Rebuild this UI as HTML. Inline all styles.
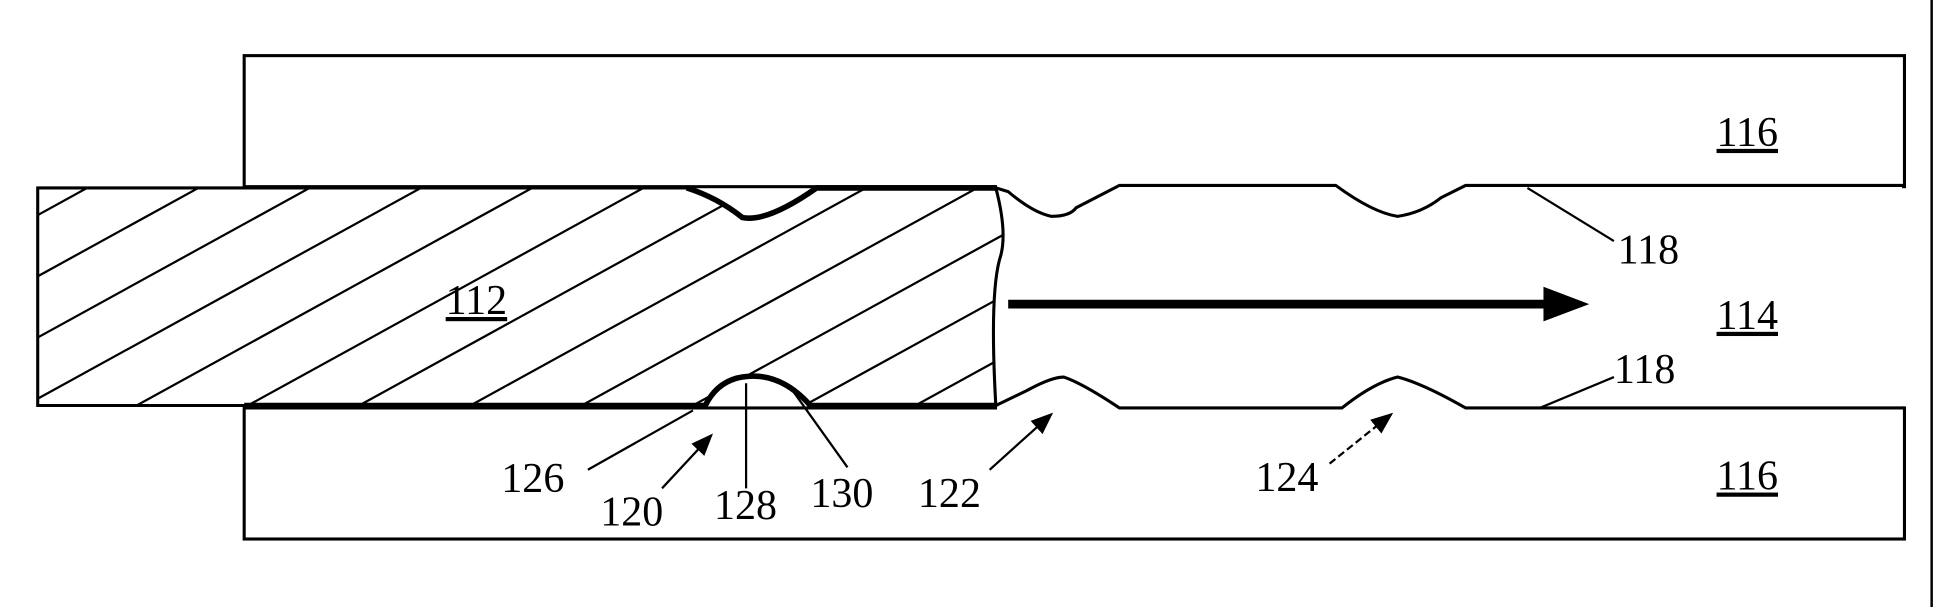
<!DOCTYPE html>
<html><head><meta charset="utf-8"><style>
html,body{margin:0;padding:0;background:#fff;width:1936px;height:607px;overflow:hidden}
svg{display:block}
text{font-family:"Liberation Serif",serif;font-size:34px;fill:#000}
</style></head><body>
<svg width="1936" height="607" viewBox="0 0 1565 491" xmlns="http://www.w3.org/2000/svg">
<defs>
<clipPath id="rodclip"><path d="M30 152 L555 152 Q580 160 600 176 Q620 180 660 152 L805 152 Q815 190 808 210 Q800 240 805 328 L655 328 Q630 300 600 305 Q580 308 570 328 L30 328 Z"/></clipPath>
<marker id="ah" markerWidth="10" markerHeight="10" refX="9" refY="5" orient="auto"><path d="M0 1 L10 5 L0 9 Z" fill="#000"/></marker>
</defs>
<line x1="1562" y1="0" x2="1562" y2="491" stroke="#000" stroke-width="2"/>
<rect x="197" y="45" width="1343" height="106" fill="none" stroke="#000" stroke-width="2.5"/>
<rect x="197" y="330" width="1343" height="106" fill="none" stroke="#000" stroke-width="2.5"/>
<rect x="806" y="147" width="732" height="7" fill="#fff"/>
<rect x="806" y="326" width="732" height="7" fill="#fff"/>
<path d="M805 152 L815 155 Q835 172 850 175 Q865 175 870 168 L905 150 L1080 150 Q1110 172 1130 175 Q1150 172 1165 160 L1185 150 L1540 150" fill="none" stroke="#000" stroke-width="2.5"/>
<path d="M805 328 L830 316 Q850 305 860 305 Q875 310 905 330 L1085 330 Q1110 310 1130 305 Q1150 310 1185 330 L1540 330" fill="none" stroke="#000" stroke-width="2.5"/>
<g>
<g clip-path="url(#rodclip)" stroke="#000" stroke-width="1.8" id="hatch"></g>
<path d="M30 152 L555 152 Q580 160 600 176 Q620 180 660 152 L805 152 Q815 190 808 210 Q800 240 805 328 L655 328 Q630 300 600 305 Q580 308 570 328 L30 328 Z" fill="none" stroke="#000" stroke-width="2.5"/>
<path d="M197 328 L570 328 Q580 308 600 305 Q630 300 655 328 L805 328 M555 152 Q580 160 600 176 Q620 180 660 152 L805 152" fill="none" stroke="#000" stroke-width="4.5"/>
</g>
<line x1="815" y1="246" x2="1250" y2="246" stroke="#000" stroke-width="7"/>
<path d="M1248 232 L1285 246 L1248 260 Z" fill="#000"/>
<g stroke="#000" stroke-width="1.8" fill="none">
<line x1="1235" y1="152" x2="1305" y2="195"/>
<line x1="1245" y1="330" x2="1305" y2="305"/>
<line x1="475" y1="380" x2="560" y2="332"/>
<line x1="535" y1="395" x2="575" y2="352" marker-end="url(#ah)"/>
<line x1="603" y1="310" x2="603" y2="395"/>
<line x1="640" y1="315" x2="685" y2="378"/>
<line x1="800" y1="380" x2="850" y2="335" marker-end="url(#ah)"/>
<line x1="1075" y1="375" x2="1125" y2="335" stroke-dasharray="6 3" marker-end="url(#ah)"/>
</g>
<text x="1388" y="118" text-decoration="underline">116</text>
<text x="1388" y="396" text-decoration="underline">116</text>
<text x="1388" y="266" text-decoration="underline">114</text>
<text x="360" y="254" text-decoration="underline">112</text>
<text x="1308" y="213">118</text>
<text x="1305" y="310">118</text>
<text x="405" y="398">126</text>
<text x="485" y="425">120</text>
<text x="577" y="420">128</text>
<text x="655" y="410">130</text>
<text x="742" y="410">122</text>
<text x="1015" y="397">124</text>
</svg>
<script>
const g=document.getElementById('hatch');
for(let k=0;k<14;k++){
  const x0=-250+k*90;
  const l=document.createElementNS('http://www.w3.org/2000/svg','line');
  
  
  l.setAttribute('x1',x0);l.setAttribute('y1',328);
  l.setAttribute('x2',x0+320);l.setAttribute('y2',152);
  g.appendChild(l);
}
</script>
</body></html>
